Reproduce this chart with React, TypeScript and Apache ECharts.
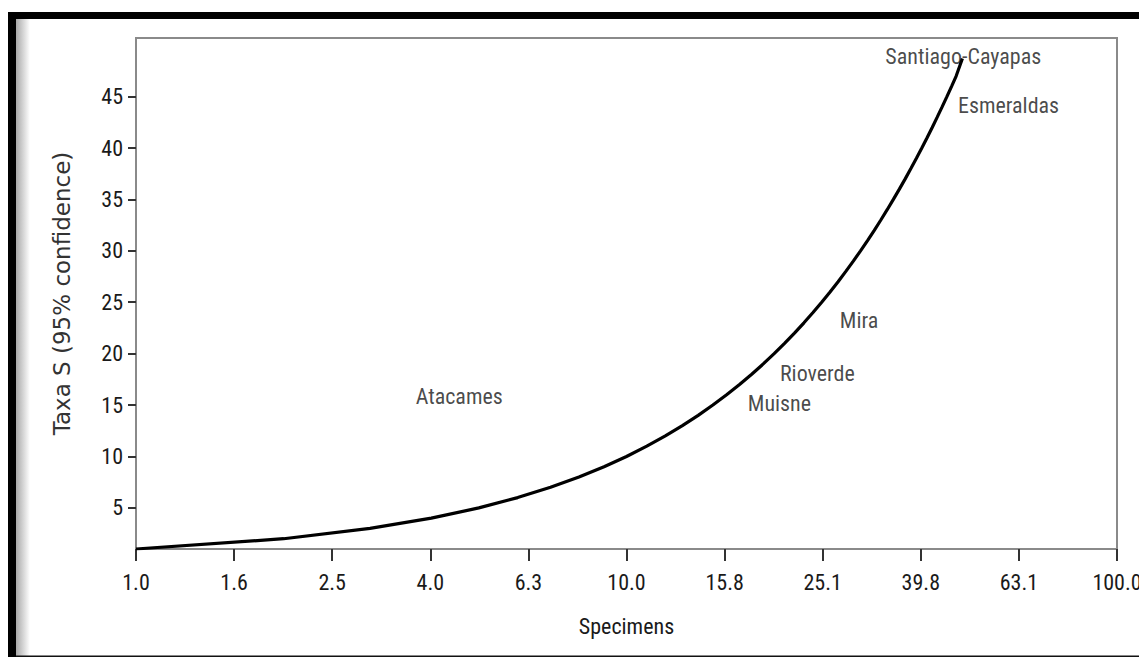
import React, { useEffect, useRef } from "react";
import * as echarts from "echarts";

const specimens = [1, 2, 3, 4, 5, 6, 7, 8, 9, 10, 11, 12, 13, 14, 15, 16, 17, 18, 19, 20, 21, 22, 23, 24, 25, 26, 27, 28, 29, 30, 31, 32, 33, 34, 35, 36, 37, 38, 39, 40, 41, 42, 43, 44, 45, 46, 47, 48.4];
const taxa = [1, 2, 3, 4, 5, 6, 7, 8, 9, 10, 11, 12, 13, 14, 15, 16, 17, 18, 19, 20, 21, 22, 23, 24, 25, 26, 27, 28, 29, 30, 31, 32, 33, 34, 35, 36, 37, 38, 39, 40, 41, 42, 43, 44, 45, 46, 47, 48.7];

const siteNames = ["Santiago-Cayapas", "Esmeraldas", "Mira", "Rioverde", "Muisne", "Atacames"];
const siteSpecimens = [48.6, 60.1, 29.8, 24.5, 20.5, 4.56];
const siteTaxa = [48.9, 44.1, 23.2, 18.1, 15.2, 15.8];

const xTicks = [1, 1.585, 2.512, 3.981, 6.31, 10, 15.849, 25.119, 39.811, 63.096, 100];
const yTicks = [5, 10, 15, 20, 25, 30, 35, 40, 45];

const NARROW = "'Roboto Condensed', 'Liberation Sans Narrow', Roboto, sans-serif";

export default function App() {
  const ref = useRef<HTMLDivElement>(null);
  useEffect(() => {
    if (!ref.current) return;
    const chart = echarts.init(ref.current, null, { renderer: "svg" });
    chart.setOption({
      animation: false,
      backgroundColor: "#ffffff",
      grid: {
        left: 136,
        top: 38,
        right: 22,
        bottom: 108,
        containLabel: false,
        outerBoundsMode: "none",
        show: true,
        borderColor: "#8a8a8a",
        borderWidth: 2,
        backgroundColor: "transparent",
      },
      xAxis: {
        type: "log",
        logBase: 10,
        min: 1,
        max: 100,
        name: "Specimens",
        nameLocation: "middle",
        nameGap: 66,
        nameTextStyle: { fontFamily: NARROW, fontSize: 22, color: "#1a1a1a" },
        axisLine: { show: true, onZero: false, lineStyle: { color: "#8a8a8a", width: 2 } },
        axisTick: { show: true, length: 12, customValues: xTicks, lineStyle: { color: "#333", width: 2 } },
        axisLabel: {
          show: true,
          customValues: xTicks,
          margin: 22,
          fontFamily: NARROW,
          fontSize: 22,
          color: "#1a1a1a",
          hideOverlap: false,
          formatter: (v: number) => v.toFixed(1),
        },
        splitLine: { show: false },
        minorTick: { show: false },
      },
      yAxis: {
        type: "value",
        min: 1,
        max: 50.7,
        name: "Taxa S (95% confidence)",
        nameLocation: "middle",
        nameGap: 63,
        nameTextStyle: { fontFamily: "'DejaVu Sans', sans-serif", fontSize: 23, color: "#333" },
        axisLine: { show: true, onZero: false, lineStyle: { color: "#8a8a8a", width: 2 } },
        axisTick: { show: true, length: 8, customValues: yTicks, lineStyle: { color: "#333", width: 2 } },
        axisLabel: {
          show: true,
          customValues: yTicks,
          margin: 13,
          fontFamily: NARROW,
          fontSize: 22,
          color: "#1a1a1a",
        },
        splitLine: { show: false },
      },
      graphic: [
        { type: "rect", shape: { x: 0, y: 0, width: 1139, height: 12 }, style: { fill: "#ffffff" }, z: 100 },
        { type: "rect", shape: { x: 8, y: 12, width: 1131, height: 7 }, style: { fill: "#000000" }, z: 100 },
        { type: "rect", shape: { x: 8, y: 12, width: 8, height: 645 }, style: { fill: "#000000" }, z: 100 },
        {
          type: "rect",
          shape: { x: 16, y: 19, width: 14, height: 638 },
          style: {
            fill: new echarts.graphic.LinearGradient(0, 0, 1, 0, [
              { offset: 0, color: "#a8a8a8" },
              { offset: 1, color: "#ffffff" },
            ]),
          },
          z: 100,
        },
        { type: "rect", shape: { x: 16, y: 655.5, width: 1123, height: 1.5 }, style: { fill: "#111111" }, z: 100 },
      ],
      series: [
        {
          type: "line",
          data: specimens.map((s, i) => [s, taxa[i]]),
          showSymbol: false,
          symbol: "none",
          smooth: false,
          lineStyle: { color: "#000000", width: 3.2 },
          z: 3,
        },
        {
          type: "scatter",
          symbolSize: 0,
          itemStyle: { color: "transparent" },
          data: siteNames.map((n, i) => ({ name: n, value: [siteSpecimens[i], siteTaxa[i]] })),
          label: {
            show: true,
            position: "inside",
            formatter: "{b}",
            fontFamily: NARROW,
            fontSize: 22,
            color: "#1a1a1a",
            textBorderWidth: 0,
          },
          z: 2,
        },
      ],
    });
    return () => chart.dispose();
  }, []);
  return <div ref={ref} style={{ position: "absolute", left: 0, top: 0, width: 1139, height: 657 }} />;
}
